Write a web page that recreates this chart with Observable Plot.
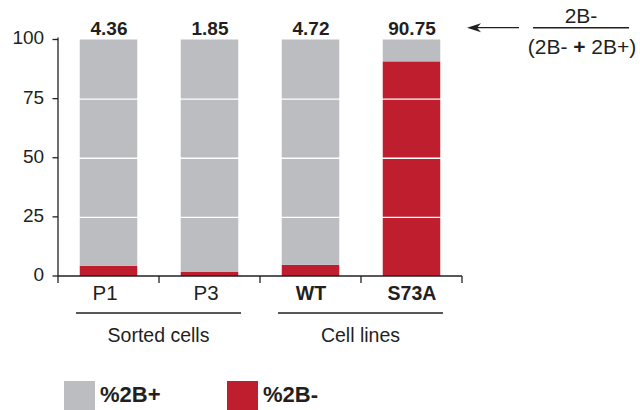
<!DOCTYPE html>
<html><head><meta charset="utf-8">
<script src="https://cdn.jsdelivr.net/npm/d3@7"></script>
<script src="https://cdn.jsdelivr.net/npm/@observablehq/plot@0.6"></script>
<style>body{margin:0;background:#fff} #chart{width:640px;height:410px}</style>
</head><body><div id="chart"></div>
<script>
const categories = ["P1", "P3", "WT", "S73A"];
const boldCategories = ["WT", "S73A"];
const groups = ["Sorted cells", "Sorted cells", "Cell lines", "Cell lines"];
const negValues = [4.36, 1.85, 4.72, 90.75];
const valueLabels = ["4.36", "1.85", "4.72", "90.75"];
const seriesNames = ["%2B+", "%2B-"];
const seriesColors = ["#bcbdc1", "#be1e2d"];
const yTicks = [0, 25, 50, 75, 100];
const gridValues = [25, 50, 75];
const fractionTop = "2B-";
const fractionBottom = ["(2B- ", "+", " 2B+)"];

const FONT = "Arial, 'Liberation Sans', Helvetica, sans-serif";
const INK = "#231f20";

const rows = [];
categories.forEach((c, i) => {
  rows.push({cat: c, series: seriesNames[1], y1: 0, y2: negValues[i]});
  rows.push({cat: c, series: seriesNames[0], y1: negValues[i], y2: 100});
});
const labels = categories.map((c, i) => ({cat: c, label: valueLabels[i]}));

function decorations(index, scales, values, dim) {
  const x = scales.x, y = scales.y;
  const step = x(categories[1]) - x(categories[0]);
  const x0 = x(categories[0]);
  const xEnd = x(categories[categories.length - 1]) + step;
  const yb = y(0), yt = y(100);
  const g = d3.create("svg:g").attr("font-family", FONT).attr("fill", INK).attr("text-anchor", "start");
  // axis lines
  g.append("line").attr("x1", x0).attr("x2", x0).attr("y1", yt - 2).attr("y2", yb)
    .attr("stroke", INK).attr("stroke-width", 1.3);
  g.append("line").attr("x1", x0).attr("x2", xEnd).attr("y1", yb).attr("y2", yb)
    .attr("stroke", INK).attr("stroke-width", 1.3);
  // y ticks + labels
  yTicks.forEach(t => {
    g.append("line").attr("x1", x0 - 5.5).attr("x2", x0).attr("y1", y(t)).attr("y2", y(t))
      .attr("stroke", INK).attr("stroke-width", 1.3);
    g.append("text").attr("x", x0 - 13.8).attr("y", y(t)).attr("dy", "0.26em")
      .attr("text-anchor", "end").attr("font-size", "19px").text(String(t));
  });
  // bottom ticks at band boundaries
  const bounds = categories.map(c => x(c)).concat([xEnd]);
  bounds.forEach(bx => {
    g.append("line").attr("x1", bx).attr("x2", bx).attr("y1", yb).attr("y2", yb + 7)
      .attr("stroke", INK).attr("stroke-width", 1.3);
  });
  // group underlines and labels
  const uniq = Array.from(new Set(groups));
  uniq.forEach(name => {
    const cats = categories.filter((c, i) => groups[i] === name);
    const gx1 = x(cats[0]) + 18;
    const gx2 = x(cats[cats.length - 1]) + step - 19;
    g.append("line").attr("x1", gx1).attr("x2", gx2).attr("y1", yb + 37).attr("y2", yb + 37)
      .attr("stroke", INK).attr("stroke-width", 1.4);
    g.append("text").attr("x", (gx1 + gx2) / 2).attr("y", yb + 66)
      .attr("text-anchor", "middle").attr("font-size", "19.5px").text(name);
  });
  // arrow + fraction annotation
  const ay = yt - 11.8;
  const ax1 = xEnd + 5, ax2 = xEnd + 57;
  g.append("line").attr("x1", ax1 + 10).attr("x2", ax2).attr("y1", ay).attr("y2", ay)
    .attr("stroke", INK).attr("stroke-width", 1.3);
  g.append("path").attr("d", `M${ax1},${ay} L${ax1 + 14},${ay - 4.5} L${ax1 + 10},${ay} L${ax1 + 14},${ay + 4.5} Z`)
    .attr("fill", INK);
  const fx = 581;
  g.append("line").attr("x1", 533).attr("x2", 629).attr("y1", ay).attr("y2", ay)
    .attr("stroke", INK).attr("stroke-width", 1.4);
  g.append("text").attr("x", fx).attr("y", ay - 4.5).attr("text-anchor", "middle")
    .attr("font-size", "21px").text(fractionTop);
  const bt = g.append("text").attr("x", fx + 1).attr("y", ay + 26).attr("text-anchor", "middle")
    .attr("font-size", "21px");
  bt.append("tspan").text(fractionBottom[0]);
  bt.append("tspan").attr("font-weight", "bold").text(fractionBottom[1]);
  bt.append("tspan").text(fractionBottom[2]);
  // legend
  const legendX = [64, 227];
  seriesNames.forEach((s, i) => {
    g.append("rect").attr("x", legendX[i]).attr("y", 381).attr("width", 31).attr("height", 31)
      .attr("fill", seriesColors[i]);
    g.append("text").attr("x", legendX[i] + 36).attr("y", 402).attr("font-size", "22px")
      .attr("text-anchor", "start").attr("font-weight", "bold").text(s);
  });
  return g.node();
}

const chart = Plot.plot({
  width: 640,
  height: 410,
  marginLeft: 57,
  marginRight: 177,
  marginTop: 39.5,
  marginBottom: 134,
  style: {fontFamily: FONT, color: INK, background: "#fff", overflow: "visible"},
  x: {domain: categories, padding: 0, axis: null},
  y: {domain: [0, 100], axis: null},
  color: {domain: seriesNames, range: seriesColors},
  marks: [
    Plot.barY(rows, {x: "cat", y1: "y1", y2: "y2", fill: "series", insetLeft: 21.75, insetRight: 21.75}),
    Plot.ruleY(gridValues, {stroke: "#fff", strokeWidth: 1.3}),
    Plot.text(labels, {x: "cat", y: () => 100, text: "label", dy: -11.5, fontSize: 19, fontWeight: "bold", fill: INK}),
    Plot.text(categories.filter(c => !boldCategories.includes(c)), {x: d => d, y: () => 0, text: d => d, dy: 17, dx: -4, fontSize: 20.5, fill: INK}),
    Plot.text(boldCategories, {x: d => d, y: () => 0, text: d => d, dy: 17, fontSize: 19.5, fontWeight: "bold", fill: INK}),
    decorations
  ]
});
document.getElementById("chart").appendChild(chart);
</script>
</body></html>
